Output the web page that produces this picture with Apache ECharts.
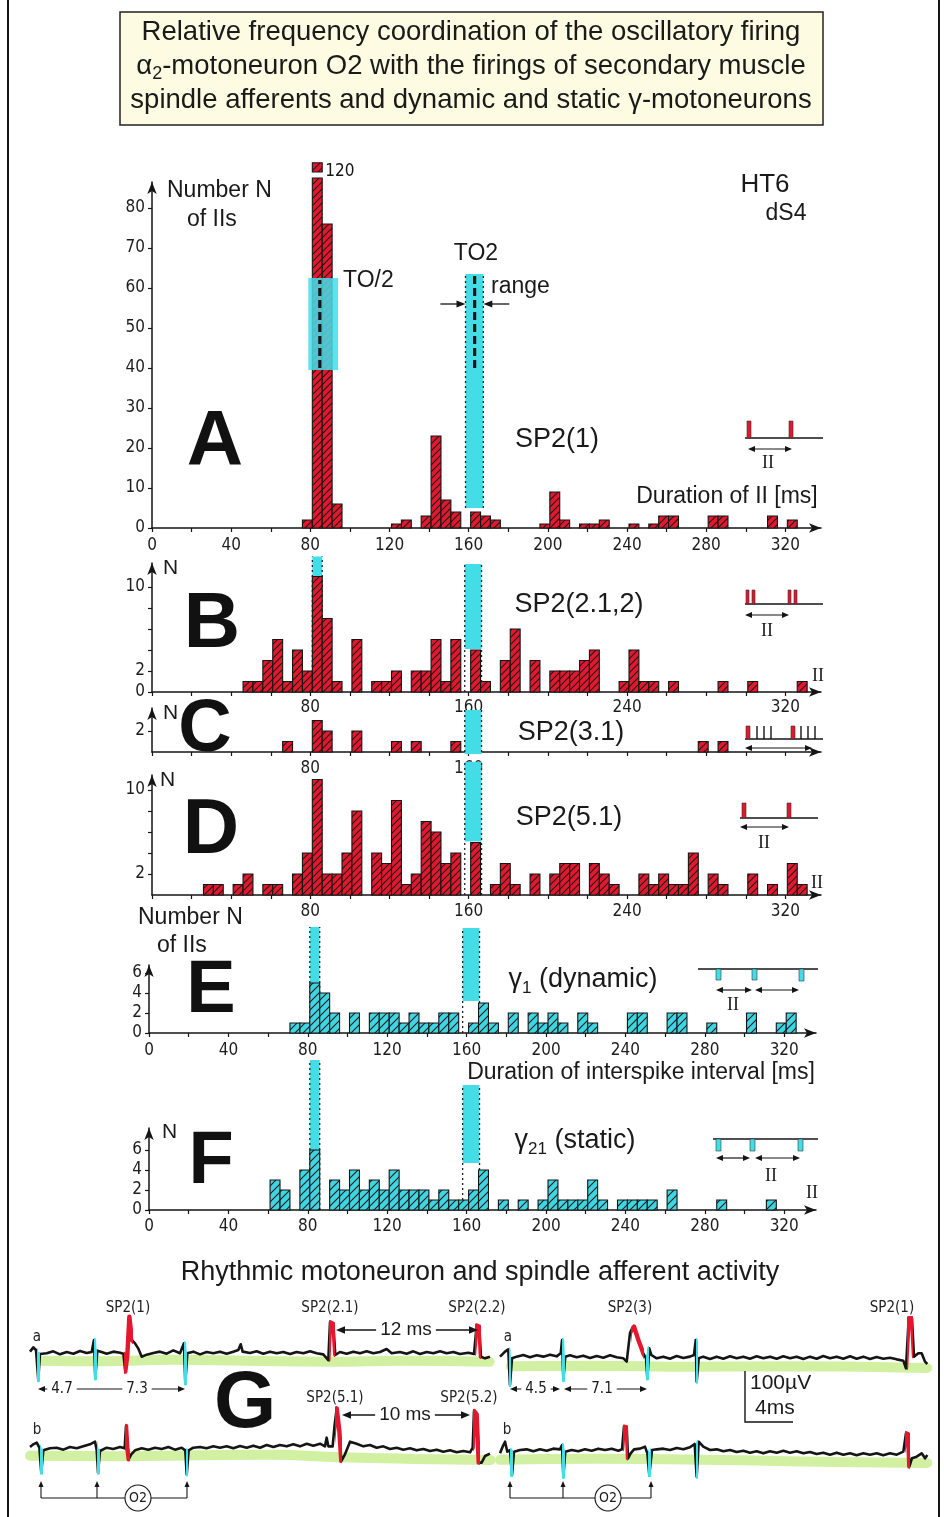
<!DOCTYPE html>
<html><head><meta charset="utf-8">
<script src="https://cdn.jsdelivr.net/npm/echarts@6.0.0/dist/echarts.min.js"></script>
<style>html,body{margin:0;padding:0;background:#fff}#c{width:944px;height:1517px}</style>
</head><body><div id="c"></div>
<script>
// ---------------- DATA ----------------
// Histogram bins: lower edge (ms) of 5-ms bins, counts N
const A_bins = [75,80,85,90,120,125,135,140,145,150,160,165,170,195,200,205,215,220,225,240,250,255,260,280,285,310,320];
const A_counts = [2,120,76,6,1,2,3,23,7,4,4,3,2,1,9,2,1,1,2,1,1,3,3,3,3,3,2];
const B_bins = [45,50,55,60,65,70,75,80,85,90,100,110,115,120,130,135,140,145,150,160,165,175,180,190,200,205,210,215,220,235,240,245,250,260,285,300,325];
const B_counts = [1,1,3,5,1,4,2,11,7,1,5,1,1,2,2,2,5,1,5,4,1,3,6,3,2,2,2,3,4,1,4,1,1,1,1,1,1];
const C_bins = [65,80,85,100,120,130,150,275,285];
const C_counts = [1,3,2,2,1,1,1,1,1];
const D_bins = [25,30,40,45,55,60,70,75,80,85,90,95,100,110,115,120,125,130,135,140,145,150,160,170,175,180,190,200,205,210,220,225,230,245,250,255,260,265,270,280,285,300,310,320,325];
const D_counts = [1,1,1,2,1,1,2,4,11,2,2,4,8,4,3,9,1,2,7,6,3,4,5,1,3,1,2,2,3,3,3,2,1,2,1,2,1,1,4,2,1,2,1,3,1];
const E_bins = [70,75,80,85,90,100,110,115,120,125,130,135,140,145,150,160,165,170,180,190,195,200,205,215,220,240,245,260,265,280,300,315,320];
const E_counts = [1,1,5,4,2,2,2,2,2,1,2,1,1,2,2,1,3,1,2,2,1,2,1,2,1,2,2,2,2,1,2,1,2];
const F_bins = [60,65,75,80,90,95,100,105,110,115,120,125,130,135,140,145,150,155,160,165,175,185,195,200,205,210,215,220,225,235,240,245,250,260,285,310];
const F_counts = [3,2,4,6,3,2,4,2,3,2,4,2,2,2,1,2,1,1,2,4,1,1,1,3,1,1,1,3,1,1,1,1,1,2,1,1];

// Tick labels
const X_TICKS = [0,20,40,60,80,100,120,140,160,180,200,220,240,260,280,300,320];
const X_LAB_FULL = [0,40,80,120,160,200,240,280,320];
const X_LAB_80 = [80,160,240,320];
const X_LAB_C = [80,160];
const A_YLAB = [0,10,20,30,40,50,60,70,80];
const B_YLAB = [0,2,10], B_YTICK = [0,2,4,6,8,10];
const C_YLAB = [2];
const D_YLAB = [2,10], D_YTICK = [2,4,6,8,10];
const EF_YLAB = [0,2,4,6];

// Cyan TO bands per panel: [x0, x1, cyanBottom, top, dottedBottom]
const A_bands = [[158.4,167.4,5,63.5,5]];
const B_bands = [[81,86,0,12.9,0],[158,166.5,4.1,12.2,0]];
const C_bands = [[158,166.5,-0.2,4.0,0]];
const D_bands = [[158,166.5,5.1,12.7,0]];
const E_bands = [[81,86,5,10.6,0],[158,166.5,3.2,10.5,0]];
const F_bands = [[81,86,6,15.0,0],[158,166.5,4.7,12.5,0]];
const A_half = [[79,94,39.5,62.5]];          // TO/2 highlight
const A_dash = [[84.8,40,62],[163,40,63.5]];  // dashed TO markers
const A_range = [[145.7,158.4,56],[180.5,167.4,56]];

// Recorded traces (time ms, µV)
const Ga_left = [[0,2.6],[0.28,10.9],[0.5,5.8],[0.69,-51.9],[0.83,-1.9],[1.39,-0.6],[1.94,3.2],[2.5,-2.6],[3.06,1.9],[3.61,-1.3],[4.17,3.8],[4.72,0],[5.14,1.9],[5.33,25],[5.44,-48.7],[5.61,4.5],[5.97,1.9],[6.39,-1.3],[6.94,2.6],[7.5,0.6],[7.78,-1.3],[7.94,-35.9],[8.11,-4.5],[8.28,69.9],[8.5,25],[8.75,18.6],[9.03,8.3],[9.31,-7.1],[9.72,-3.2],[10.28,0],[10.83,2.6],[11.39,-1.3],[11.94,5.1],[12.5,-0.6],[12.83,18.6],[12.94,-58.3],[13.11,-0.6],[13.61,2.6],[14.17,-2.6],[14.72,1.9],[15.28,-0.6],[15.83,2.6],[16.39,-1.3],[16.94,2.6],[17.36,5.8],[17.56,16.7],[17.72,2.6],[18.33,0],[18.89,3.2],[19.44,-1.3],[20,2.6],[20.56,-0.6],[21.11,1.9],[21.67,-1.9],[22.22,1.9],[22.78,-0.6],[23.33,3.2],[23.89,-0.6],[24.44,-2.6],[24.86,-13.5],[25,59],[25.28,55.8],[25.44,-3.8],[25.83,1.9],[26.39,-1.3],[26.94,2.6],[27.5,-0.6],[28.06,3.2],[28.61,-0.6],[29.17,1.9],[29.72,7.7],[30.14,-0.6],[30.83,1.9],[31.39,-1.3],[31.94,3.2],[32.5,-1.9],[33.06,1.9],[33.61,-0.6],[34.17,3.2],[34.72,-0.6],[35.28,1.9],[35.83,-1.9],[36.53,0.6],[37,-1.9],[37.22,53.2],[37.44,50.6],[37.58,-7.1],[37.92,-10.3],[38.33,-7.1]];
const Ga_right = [[0,2.6],[0.42,12.2],[0.69,16.7],[0.83,-51.9],[1,-0.6],[1.39,2.6],[1.94,5.8],[2.5,1.3],[3.06,5.1],[3.61,2.6],[4.17,6.4],[4.72,3.2],[5.06,9],[5.17,34.6],[5.28,-42.3],[5.44,2.6],[5.83,5.1],[6.39,1.3],[6.94,4.5],[7.5,0],[8.06,3.8],[8.61,0.6],[9.17,5.1],[9.72,1.3],[10.28,-0.6],[10.56,-7.1],[10.83,47.4],[10.97,55.1],[11.17,60.3],[11.53,34.6],[11.94,9],[12.17,-0.6],[12.28,-39.1],[12.44,18.6],[12.61,5.8],[13.06,-0.6],[13.61,2.6],[14.17,-1.3],[14.72,3.8],[15.28,0],[15.83,2.6],[16.17,5.8],[16.31,34.6],[16.39,-45.5],[16.56,-0.6],[16.94,2.6],[17.5,-1.9],[18.06,2.6],[18.61,-1.3],[19.17,3.2],[19.72,-0.6],[20.28,2.6],[20.83,-1.3],[21.39,3.2],[21.94,-0.6],[22.5,2.6],[23.06,-1.3],[23.61,3.2],[24.17,-0.6],[24.72,2.6],[25.28,-1.9],[25.83,2.6],[26.39,-1.3],[26.94,3.8],[27.5,-0.6],[28.06,2.6],[28.61,-1.3],[29.17,3.2],[29.72,-1.3],[30.28,2.6],[30.83,-1.9],[31.39,1.9],[31.94,-1.3],[32.5,0.6],[33.06,-2.6],[33.61,-5.1],[33.83,-19.9],[34.06,76.3],[34.33,76.3],[34.5,2.6],[34.86,9],[35.14,9],[35.42,-7.1],[35.61,-11.5]];
const Gb_left = [[0,1.9],[0.28,7.1],[0.56,10.3],[0.78,0.6],[0.94,-47.4],[1.11,-4.5],[1.67,-0.6],[2.22,0.6],[2.78,-3.2],[3.33,1.9],[3.89,-0.6],[4.44,3.2],[5,7.1],[5.42,12.2],[5.56,-4.5],[5.67,-47.4],[5.83,-5.8],[6.39,0.6],[6.94,-1.9],[7.5,1.9],[7.89,-0.6],[8,42.3],[8.11,0.6],[8.22,-21.8],[8.44,-12.2],[8.75,-4.5],[9.31,-0.6],[9.86,-3.2],[10.42,0.6],[10.97,-1.9],[11.53,1.9],[12.08,-3.2],[12.64,0.6],[12.94,-4.5],[13.06,-50.6],[13.22,-4.5],[13.61,0.6],[14.17,1.9],[14.72,-0.6],[15.28,3.2],[15.83,0.6],[16.39,3.2],[16.94,-0.6],[17.5,3.8],[18.06,0.6],[18.61,4.5],[19.17,0.6],[19.72,5.8],[20.28,1.9],[20.83,5.8],[21.39,3.2],[21.94,7.1],[22.5,3.2],[23.06,8.3],[23.61,4.5],[24.17,8.3],[24.58,3.2],[24.72,19.9],[24.86,3.2],[25.22,3.2],[25.39,45.5],[25.56,76.3],[25.78,32.7],[25.94,-25],[26.25,-12.2],[26.67,12.2],[27.22,8.3],[27.78,3.2],[28.33,5.8],[28.89,0.6],[29.44,3.2],[30,-1.9],[30.56,0.6],[31.11,-3.2],[31.67,-0.6],[32.22,-4.5],[32.78,-1.9],[33.33,-5.8],[33.89,-3.2],[34.44,-7.1],[35,-4.5],[35.56,-8.3],[36.11,-5.8],[36.67,-8.3],[36.89,0.6],[37,71.2],[37.22,64.7],[37.39,-28.2],[37.64,-28.2],[37.92,-15.4],[38.33,-10.9]];
const Gb_right = [[0,-4.5],[0.22,8.3],[0.42,17.9],[0.61,-1.3],[0.83,1.9],[1,-46.2],[1.17,-1.3],[1.67,1.9],[2.22,3.2],[2.78,-0.6],[3.33,3.2],[3.89,0.6],[4.44,4.5],[5,3.2],[5.17,11.5],[5.28,-49.4],[5.44,-1.3],[5.97,1.9],[6.53,-0.6],[7.08,3.2],[7.64,0.6],[8.19,4.5],[8.75,1.9],[9.31,4.5],[9.86,0.6],[10.17,3.2],[10.33,46.8],[10.56,45.5],[10.67,-14.1],[10.89,-4.5],[11.17,3.2],[11.67,4.5],[12.08,8.3],[12.28,-4.5],[12.44,-46.2],[12.67,1.9],[13.06,3.2],[13.61,4.5],[14.17,1.9],[14.72,5.8],[15.28,3.2],[15.83,7.1],[16.22,13.5],[16.39,-49.4],[16.56,17.9],[16.94,8.3],[17.5,1.9],[18.06,3.2],[18.61,-0.6],[19.17,1.9],[19.72,-1.9],[20.28,0.6],[20.83,-3.2],[21.39,-0.6],[21.94,-4.5],[22.5,-0.6],[23.06,-3.2],[23.61,0.6],[24.17,-3.2],[24.72,-0.6],[25.28,-4.5],[25.83,-1.9],[26.39,-5.8],[26.94,-3.2],[27.5,-7.1],[28.06,-3.2],[28.61,-7.1],[29.17,-4.5],[29.72,-8.3],[30.28,-4.5],[30.83,-7.1],[31.39,-4.5],[31.94,-8.3],[32.5,-4.5],[33.06,-7.1],[33.61,-1.3],[33.83,34],[34,32.7],[34.11,-30.1],[34.33,-14.1],[34.72,-10.9],[35.14,-4.5],[35.42,-14.1],[35.61,-7.7]];
// green highlighter under the traces
const Ga_left_green = [[0.9,-15],[6,-16],[12,-13],[18,-15],[25,-17],[31,-15],[38.3,-17]];
const Ga_right_green = [[0.9,-16],[8,-15],[16,-17],[24,-16],[30,-17],[35.6,-19]];
const Gb_left_green = [[0,-15],[8,-16],[14,-14],[20,-13],[26,-18],[32,-21],[38.4,-23]];
const Gb_right_green = [[0,-17],[8,-15],[14,-16],[20,-18],[28,-21],[35.6,-23]];

// ---------------- STYLE ----------------
const SANS = "'Liberation Sans', Arial, Helvetica, sans-serif";
const COND = "'DejaVu Sans Condensed','Liberation Sans Narrow','Roboto Condensed',Roboto,sans-serif";
const SERIF = "'Liberation Serif','DejaVu Serif',serif";
const RED = '#e3172d', CYAN = '#43dde8', BLACK = '#151515', GREEN = '#cfef9c';
const BIN_W = 5, BIN_OFFSET = 1;
const A_CLIP = 88, A_DRAW = 87.5, CAP_LO = 89, CAP_HI = 91.3;

const tracePieces = [
  [[0.55,0.85,CYAN],[5.36,5.6,CYAN],[7.8,8.6,RED],[12.86,13.1,CYAN],[24.9,25.42,RED],[37.05,37.56,RED]],
  [[0.72,0.95,CYAN],[5.2,5.42,CYAN],[10.9,12.0,RED],[12.2,12.42,CYAN],[16.33,16.52,CYAN],[33.9,34.45,RED]],
  [[0.8,1.08,CYAN],[5.58,5.8,CYAN],[7.92,8.35,RED],[12.96,13.2,CYAN],[25.4,26.0,RED],[36.95,37.5,RED]],
  [[0.85,1.12,CYAN],[5.2,5.42,CYAN],[10.25,10.7,RED],[12.3,12.62,CYAN],[16.3,16.52,CYAN],[33.75,34.2,RED]]
];

function hatch(bg, s) {
  const c = document.createElement('canvas'); c.width = s; c.height = s;
  const g = c.getContext('2d');
  g.fillStyle = bg; g.fillRect(0,0,s,s);
  g.strokeStyle = '#1b1b1b'; g.lineWidth = 1.1;
  g.beginPath();
  g.moveTo(0,s); g.lineTo(s,0);
  g.moveTo(-2,2); g.lineTo(2,-2);
  g.moveTo(s-2,s+2); g.lineTo(s+2,s-2);
  g.stroke();
  return {image: c, repeat: 'repeat'};
}
const redPat = hatch(RED, 7), cyanPat = hatch('#3dd6e2', 8);

// ---------------- LAYOUT ----------------
const grids = [
  {left:152, top:182, width:669, height:346},
  {left:152, top:563, width:669, height:129},
  {left:152, top:708, width:669, height:44},
  {left:152, top:775, width:669, height:120},
  {left:149, top:965, width:667, height:68},
  {left:149, top:1128, width:667, height:82},
  {left:30, top:1301, width:460, height:93.6},
  {left:500, top:1306, width:427, height:93.6},
  {left:30, top:1396, width:460, height:93.6},
  {left:500, top:1399, width:427, height:93.6}
].map(g => Object.assign({containLabel:false, outerBoundsMode:'none'}, g));

const axLine = {show:true, onZero:false, symbol:['none','arrow'], symbolSize:[7,12], lineStyle:{color:BLACK, width:1.5}};
function xAx(gi, max, labels, margin) {
  return {type:'value', gridIndex:gi, min:0, max:max,
    axisLine: axLine,
    axisTick:{show:true, customValues:X_TICKS, length:4, lineStyle:{color:BLACK, width:1.2}},
    axisLabel:{show:true, customValues:labels, margin:margin, fontSize:17, color:'#1d1d1d', fontFamily:COND},
    splitLine:{show:false}};
}
function yAx(gi, max, labels, ticks) {
  return {type:'value', gridIndex:gi, min:0, max:max,
    axisLine: axLine,
    axisTick:{show:true, customValues:ticks, length:4, lineStyle:{color:BLACK, width:1.2}},
    axisLabel:{show:true, customValues:labels, margin:7, fontSize:17, color:'#1d1d1d', fontFamily:COND},
    splitLine:{show:false}};
}
const xAxes = [
  xAx(0, 338, X_LAB_FULL, 9), xAx(1, 338, X_LAB_80, 7), xAx(2, 338, X_LAB_C, 8),
  xAx(3, 338, X_LAB_80, 8), xAx(4, 336, X_LAB_FULL, 9), xAx(5, 336, X_LAB_FULL, 8),
  {type:'value', gridIndex:6, min:0, max:460/12, show:false},
  {type:'value', gridIndex:7, min:0, max:427/12, show:false},
  {type:'value', gridIndex:8, min:0, max:460/12, show:false},
  {type:'value', gridIndex:9, min:0, max:427/12, show:false}
];
const yAxes = [
  yAx(0, 86.5, A_YLAB, A_YLAB), yAx(1, 129/10.5, B_YLAB, B_YTICK), yAx(2, 44/10.5, C_YLAB, C_YLAB),
  yAx(3, 120/10.5, D_YLAB, D_YTICK), yAx(4, 6.8, EF_YLAB, EF_YLAB), yAx(5, 8.2, EF_YLAB, EF_YLAB)
];
for (let gi = 6; gi < 10; gi++) yAxes.push({type:'value', gridIndex:gi, min:-80, max:100, show:false});

// ---------------- SERIES ----------------
function rectBetween(p0, p1, style) {
  return {type:'rect', shape:{x:Math.min(p0[0],p1[0]), y:Math.min(p0[1],p1[1]), width:Math.abs(p1[0]-p0[0]), height:Math.abs(p1[1]-p0[1])}, style:style};
}
function barsSeries(gi, bins, counts, pat) {
  return {type:'custom', xAxisIndex:gi, yAxisIndex:gi, z:3, silent:true, clip:false,
    data: bins.map((b,i) => [b, counts[i]]),
    renderItem: function (params, api) {
      const x0 = api.value(0) + BIN_OFFSET, x1 = x0 + BIN_W, v = api.value(1);
      const st = {fill:pat, stroke:BLACK, lineWidth:1.1};
      const top = v > A_CLIP ? A_DRAW : v;
      const kids = [rectBetween(api.coord([x0,0]), api.coord([x1,top]), st)];
      if (v > A_CLIP) {
        const c0 = api.coord([x0,CAP_LO]), c1 = api.coord([x1,CAP_HI]);
        kids.push(rectBetween(c0, c1, {fill:pat, stroke:BLACK, lineWidth:1.1}));
        kids.push({type:'text', x:c1[0]+3, y:(c0[1]+c1[1])/2+4,
          style:{text:String(v), fontSize:17, fontFamily:COND, fill:BLACK, align:'left', verticalAlign:'middle'}});
      }
      return {type:'group', children:kids};
    }};
}
function bandSeries(gi, bands) {
  return {type:'custom', xAxisIndex:gi, yAxisIndex:gi, z:1, silent:true, clip:false, data:bands,
    renderItem: function (params, api) {
      const x0 = api.value(0), x1 = api.value(1), y0 = api.value(2), y1 = api.value(3), yd = api.value(4);
      const a = api.coord([x0,y0]), b = api.coord([x1,y1]), d = api.coord([x0,yd]);
      const ds = {stroke:'#222', lineWidth:1.3, lineDash:[2,3]};
      return {type:'group', children:[
        rectBetween(a, b, {fill:CYAN}),
        {type:'line', shape:{x1:a[0], y1:d[1], x2:a[0], y2:b[1]}, style:ds},
        {type:'line', shape:{x1:b[0], y1:d[1], x2:b[0], y2:b[1]}, style:ds}
      ]};
    }};
}
const series = [];
const bandsAll = [A_bands, B_bands, C_bands, D_bands, E_bands, F_bands];
bandsAll.forEach((b, gi) => series.push(bandSeries(gi, b)));
series.push(barsSeries(0, A_bins, A_counts, redPat));
series.push(barsSeries(1, B_bins, B_counts, redPat));
series.push(barsSeries(2, C_bins, C_counts, redPat));
series.push(barsSeries(3, D_bins, D_counts, redPat));
series.push(barsSeries(4, E_bins, E_counts, cyanPat));
series.push(barsSeries(5, F_bins, F_counts, cyanPat));
// TO/2 highlighter over bars
series.push({type:'custom', xAxisIndex:0, yAxisIndex:0, z:4, silent:true, clip:false, data:A_half,
  renderItem: (p, api) => rectBetween(api.coord([api.value(0), api.value(2)]), api.coord([api.value(1), api.value(3)]), {fill:CYAN, opacity:0.86})});
series.push({type:'custom', xAxisIndex:0, yAxisIndex:0, z:5, silent:true, clip:false, data:A_dash,
  renderItem: (p, api) => {
    const a = api.coord([api.value(0), api.value(1)]), b = api.coord([api.value(0), api.value(2)]);
    return {type:'line', shape:{x1:a[0], y1:a[1], x2:b[0], y2:b[1]}, style:{stroke:BLACK, lineWidth:3.2, lineDash:[8,4]}};
  }});
series.push({type:'custom', xAxisIndex:0, yAxisIndex:0, z:5, silent:true, clip:false, data:A_range,
  renderItem: (p, api) => {
    const a = api.coord([api.value(0), api.value(2)]), b = api.coord([api.value(1), api.value(2)]);
    const dir = b[0] > a[0] ? 1 : -1;
    return {type:'group', children:[
      {type:'line', shape:{x1:a[0], y1:a[1], x2:b[0]-dir*6, y2:b[1]}, style:{stroke:BLACK, lineWidth:1.3}},
      {type:'polygon', shape:{points:[[b[0],b[1]],[b[0]-dir*9,b[1]-3.5],[b[0]-dir*9,b[1]+3.5]]}, style:{fill:BLACK}}
    ]};
  }});
// traces: green highlighter, black trace, coloured spike overlay
const traces = [[6, Ga_left, Ga_left_green], [7, Ga_right, Ga_right_green], [8, Gb_left, Gb_left_green], [9, Gb_right, Gb_right_green]];
const visualMaps = [];
traces.forEach((t, k) => {
  series.push({type:'line', xAxisIndex:t[0], yAxisIndex:t[0], data:t[2], showSymbol:false, symbol:'none', smooth:true, silent:true, z:2,
    lineStyle:{width:10, color:GREEN, opacity:0.95, cap:'round'}});
  series.push({type:'line', xAxisIndex:t[0], yAxisIndex:t[0], data:t[1], showSymbol:false, symbol:'none', silent:true, z:5,
    lineStyle:{width:2.6, color:BLACK, join:'round'}});
  series.push({type:'line', xAxisIndex:t[0], yAxisIndex:t[0], data:t[1], showSymbol:false, symbol:'none', silent:true, z:6,
    lineStyle:{width:4.4, join:'round', cap:'round'}});
  visualMaps.push({type:'piecewise', show:false, dimension:0, seriesIndex:series.length-1,
    pieces: tracePieces[k].map(p => ({gte:p[0], lte:p[1], color:p[2]})), outOfRange:{color:'rgba(0,0,0,0)'}});
});

// ---------------- GRAPHIC (texts, icons, frames) ----------------
function T(x, y, text, size, ex) {
  const st = Object.assign({text:text, fontSize:size, fontFamily:SANS, fill:'#1a1a1a', align:'left', verticalAlign:'middle'}, ex || {});
  return {type:'text', x:x, y:y, z:100, style:st};
}
const C_ = {align:'center'};
const BOLD = {align:'center', fontWeight:'bold', fill:'#111'};
function L(x1, y1, x2, y2, w, ex) { return {type:'line', z:100, shape:{x1,y1,x2,y2}, style:Object.assign({stroke:BLACK, lineWidth:w||1.3}, ex||{})}; }
function tri(x, y, dir, s) {
  s = s || 8; const w = s*0.42; let pts;
  if (dir === 'r') pts = [[x,y],[x-s,y-w],[x-s,y+w]];
  else if (dir === 'l') pts = [[x,y],[x+s,y-w],[x+s,y+w]];
  else pts = [[x,y],[x-w,y+s],[x+w,y+s]];
  return {type:'polygon', z:100, shape:{points:pts}, style:{fill:BLACK}};
}
function dbl(x1, x2, y) { return [L(x1+4,y,x2-4,y,1.2), tri(x1,y,'l',7), tri(x2,y,'r',7)]; }
function R(x, y, w, h, fill) { return {type:'rect', z:100, shape:{x,y,width:w,height:h}, style:{fill:fill, stroke:'#333', lineWidth:0.6}}; }
const rich2 = (base, sub) => ({
  n:{fontSize:base, fontFamily:SANS, fill:'#1a1a1a', color:'#1a1a1a', lineHeight:34},
  s:{fontSize:sub, fontFamily:SANS, fill:'#1a1a1a', color:'#1a1a1a', lineHeight:18, verticalAlign:'bottom'}
});

const GR = [];
GR.push(L(8,0,8,1517,2), L(939,0,939,1517,2));
GR.push({type:'rect', z:90, shape:{x:120,y:12,width:703,height:113}, style:{fill:'#fdfbe1', stroke:'#222', lineWidth:1.5}});
GR.push(T(471,32,'Relative frequency coordination of the oscillatory firing',27.5,C_));
GR.push({type:'text', x:471, y:66, z:100, style:{text:'{n|α}{s|2}{n|-motoneuron O2 with the firings of secondary muscle}', align:'center', verticalAlign:'middle', rich:rich2(27.5,18)}});
GR.push(T(471,100,'spindle afferents and dynamic and static γ-motoneurons',27.5,C_));
// A
GR.push(T(167,191,'Number N',23), T(187,220,'of IIs',23));
GR.push(T(765,185,'HT6',26,C_), T(786,214,'dS4',23,C_));
GR.push(T(343,281,'TO/2',23), T(476,254,'TO2',23,C_), T(491,287,'range',23));
GR.push(T(215,443,'A',78,BOLD));
GR.push(T(557,440,'SP2(1)',27,C_));
GR.push(T(727,497,'Duration of II [ms]',23,C_));
GR.push(L(745,438,823,438,1.5), R(747,421,4,17,RED), R(789,421,4,17,RED), ...dbl(748,792,449), T(768,463,'II',18,{align:'center',fontFamily:SERIF}));
// B
GR.push(T(163,568,'N',21), T(212,625,'B',78,BOLD), T(579,605,'SP2(2.1,2)',27,C_), T(818,676,'II',18,{align:'center',fontFamily:SERIF}));
GR.push(L(745,604,823,604,1.5), R(746,590,3,14,RED), R(752,590,3,14,RED), R(788,590,3,14,RED), R(794,590,3,14,RED), ...dbl(745,789,615), T(767,631,'II',18,{align:'center',fontFamily:SERIF}));
// C
GR.push(T(163,713,'N',21), T(205,731,'C',74,BOLD), T(571,733,'SP2(3.1)',27,C_));
GR.push(L(745,739,823,739,1.5), R(746,726,4,13,RED), L(757,726,757,739,1.4), L(764,726,764,739,1.4), L(771,726,771,739,1.4),
  R(791,726,4,13,RED), L(801,726,801,739,1.4), L(808,726,808,739,1.4), L(815,726,815,739,1.4), ...dbl(745,812,748));
// D
GR.push(T(160,780,'N',21), T(211,831,'D',78,BOLD), T(569,818,'SP2(5.1)',27,C_), T(817,883,'II',18,{align:'center',fontFamily:SERIF}));
GR.push(L(740,818,818,818,1.5), R(742,803,4,15,RED), R(787,803,4,15,RED), ...dbl(740,789,827), T(764,843,'II',18,{align:'center',fontFamily:SERIF}));
// E
GR.push(T(138,918,'Number N',23), T(157,946,'of IIs',23), T(211,992,'E',74,BOLD));
GR.push({type:'text', x:583, y:980, z:100, style:{text:'{n|γ}{s|1}{n| (dynamic)}', align:'center', verticalAlign:'middle', rich:rich2(27,17)}});
GR.push(T(641,1073,'Duration of interspike interval [ms]',23,C_));
GR.push(L(698,969,818,969,1.5), R(716,969,5,11,CYAN), R(752,969,5,11,CYAN), R(799,969,5,12,CYAN), ...dbl(716,752,990), ...dbl(755,799,990), T(733,1005,'II',18,{align:'center',fontFamily:SERIF}));
// F
GR.push(T(162,1132,'N',21), T(211,1163,'F',74,BOLD));
GR.push({type:'text', x:575, y:1141, z:100, style:{text:'{n|γ}{s|21}{n| (static)}', align:'center', verticalAlign:'middle', rich:rich2(27,17)}});
GR.push(T(812,1193,'II',18,{align:'center',fontFamily:SERIF}));
GR.push(L(713,1139,818,1139,1.5), R(716,1139,5,12,CYAN), R(750,1139,5,12,CYAN), R(798,1139,5,12,CYAN), ...dbl(716,750,1158), ...dbl(755,800,1158), T(771,1176,'II',18,{align:'center',fontFamily:SERIF}));
// G
GR.push(T(480,1273,'Rhythmic motoneuron and spindle afferent activity',27,C_));
GR.push(T(245,1405,'G',80,BOLD));
const SL = {align:'center', fontFamily:COND, fill:'#222'};
GR.push(T(128,1308,'SP2(1)',15,SL), T(330,1308,'SP2(2.1)',15,SL), T(477,1308,'SP2(2.2)',15,SL), T(630,1308,'SP2(3)',15,SL), T(892,1308,'SP2(1)',15,SL));
GR.push(T(335,1398,'SP2(5.1)',15,SL), T(469,1398,'SP2(5.2)',15,SL));
GR.push(T(37,1337,'a',15,SL), T(508,1337,'a',15,SL), T(37,1430,'b',15,SL), T(507,1430,'b',15,SL));
const WB = {align:'center', backgroundColor:'#fff', padding:[0,4]};
GR.push(L(340,1330,474,1330,1.3), tri(336,1330,'l',9), tri(478,1330,'r',9), T(406,1330,'12 ms',19,WB));
GR.push(L(346,1415,466,1415,1.3), tri(342,1415,'l',9), tri(470,1415,'r',9), T(405,1415,'10 ms',19,WB));
GR.push(L(42,1389,181,1389,1.2), tri(38,1389,'l',7), tri(185,1389,'r',7), T(62,1389,'4.7',15,Object.assign({fontFamily:COND},WB)), T(137,1389,'7.3',15,Object.assign({fontFamily:COND},WB)));
GR.push(L(514,1389,556,1389,1.2), tri(510,1389,'l',7), tri(560,1389,'r',7), L(568,1389,643,1389,1.2), tri(564,1389,'l',7), tri(647,1389,'r',7),
  T(536,1389,'4.5',15,Object.assign({fontFamily:COND},WB)), T(602,1389,'7.1',15,Object.assign({fontFamily:COND},WB)));
// scale bar
GR.push({type:'polyline', z:100, shape:{points:[[745,1371],[745,1422],[793,1422]]}, style:{stroke:BLACK, lineWidth:1.4, fill:'none'}});
GR.push(T(750,1383,'100µV',21), T(755,1408,'4ms',21));
// O2 brackets
function bracket(xs, cx) {
  const y0 = 1481, y1 = 1498, out = [];
  xs.forEach(x => { out.push(L(x,y0+4,x,y1,1.1), tri(x,y0,'u',6)); });
  out.push(L(xs[0],y1,xs[xs.length-1],y1,1.1));
  out.push({type:'circle', z:100, shape:{cx:cx, cy:y1, r:13}, style:{fill:'#fff', stroke:BLACK, lineWidth:1.1}});
  out.push(T(cx,y1,'O2',14,{align:'center',fontFamily:COND}));
  return out;
}
GR.push(...bracket([41,97,187],138), ...bracket([510,563,651],608));

const option = {
  animation:false,
  backgroundColor:'#fff',
  grid: grids,
  xAxis: xAxes,
  yAxis: yAxes,
  visualMap: visualMaps,
  series: series,
  graphic: {elements: GR}
};
const chart = echarts.init(document.getElementById('c'), null, {renderer:'canvas', width:944, height:1517});
chart.setOption(option);
</script></body></html>
